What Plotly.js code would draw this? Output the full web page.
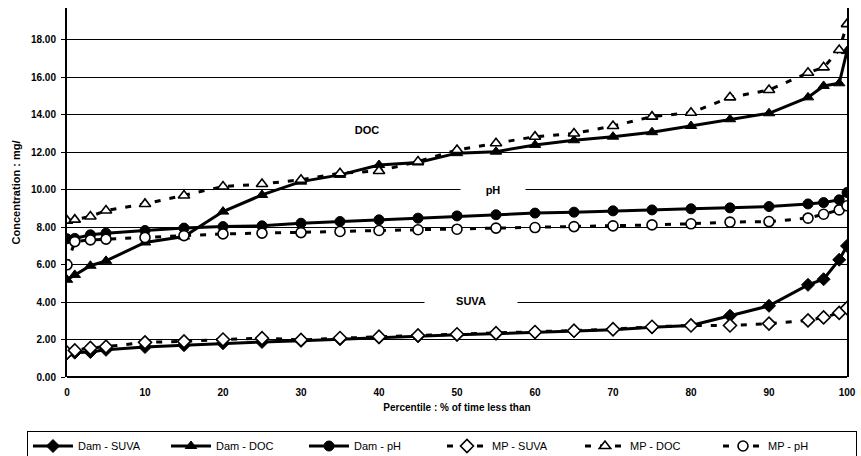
<!DOCTYPE html>
<html>
<head>
<meta charset="utf-8">
<script src="https://cdn.plot.ly/plotly-3.0.1.min.js"></script>
<style>html,body{margin:0;padding:0;background:#fff;}#chart{width:861px;height:456px;}</style>
</head>
<body>
<div id="chart"></div>
<script>
const percentile = [0,1,3,5,10,15,20,25,30,35,40,45,50,55,60,65,70,75,80,85,90,95,97,99,100];
const damSUVA = [1.28,1.30,1.33,1.45,1.60,1.70,1.80,1.87,1.93,2.02,2.10,2.18,2.25,2.31,2.38,2.45,2.52,2.65,2.75,3.27,3.80,4.92,5.22,6.26,7.00];
const damDOC  = [5.19,5.45,5.94,6.20,7.18,7.50,8.83,9.72,10.43,10.79,11.32,11.45,11.95,12.03,12.39,12.64,12.83,13.07,13.40,13.76,14.08,14.93,15.54,15.68,17.40];
const damPH   = [7.38,7.40,7.59,7.68,7.82,7.95,8.03,8.07,8.21,8.30,8.39,8.48,8.60,8.66,8.75,8.80,8.87,8.92,8.98,9.03,9.10,9.24,9.31,9.46,9.85];
const mpSUVA  = [1.30,1.42,1.55,1.62,1.85,1.90,2.00,2.07,1.98,2.08,2.15,2.22,2.28,2.34,2.40,2.47,2.55,2.68,2.75,2.75,2.85,3.02,3.18,3.42,3.68];
const mpDOC   = [8.35,8.40,8.57,8.89,9.24,9.69,10.17,10.30,10.53,10.88,11.00,11.50,12.12,12.48,12.83,13.00,13.40,13.90,14.11,14.93,15.32,16.24,16.53,17.46,18.84];
const mpPH    = [5.99,7.23,7.32,7.36,7.45,7.55,7.64,7.68,7.71,7.77,7.82,7.86,7.89,7.95,7.98,8.03,8.07,8.12,8.18,8.27,8.30,8.48,8.69,8.92,9.14];
const seriesNames = ['Dam - SUVA','Dam - DOC','Dam - pH','MP - SUVA','MP - DOC','MP - pH'];
const yTicks = [0,2,4,6,8,10,12,14,16,18];
const xTicks = [0,10,20,30,40,50,60,70,80,90,100];
const labels = [
  {text:'DOC', x:38.5, y:13.2, w:40},
  {text:'pH', x:54.6, y:10.0, w:62},
  {text:'SUVA', x:51.8, y:4.05, w:90}
];

const FONT = 'Liberation Sans, Arial, sans-serif';
function damTrace(y, name, sym){
  return {x:percentile, y:y, name:name, type:'scatter', mode:'lines+markers',
    line:{color:'#000', width:3},
    marker:{symbol:sym, size:10, color:'#000', line:{color:'#000', width:1}}};
}
function mpTrace(y, name, sym){
  return {x:percentile, y:y, name:name, type:'scatter', mode:'lines+markers',
    line:{color:'#000', width:3, dash:'6px,9px'},
    marker:{symbol:sym, size:10, color:'#fff', line:{color:'#000', width:1.6}}};
}
const data = [
  damTrace(damSUVA, seriesNames[0], 'diamond'),
  damTrace(damDOC, seriesNames[1], 'triangle-up'),
  damTrace(damPH, seriesNames[2], 'circle'),
  mpTrace(mpSUVA, seriesNames[3], 'diamond'),
  mpTrace(mpDOC, seriesNames[4], 'triangle-up'),
  mpTrace(mpPH, seriesNames[5], 'circle')
];

const layout = {
  width:861, height:456,
  margin:{l:67, r:14, t:8, b:79, autoexpand:false},
  paper_bgcolor:'#fff', plot_bgcolor:'#fff',
  font:{family:FONT, color:'#000'},
  showlegend:true,
  xaxis:{range:[0,100], tickvals:xTicks, ticktext:xTicks.map(String), automargin:false,
    showgrid:false, zeroline:false, showline:false,
    ticks:'', ticklabelstandoff:8,
    tickfont:{family:FONT, size:10, weight:'bold', color:'#000'},
    title:{text:'Percentile : % of time less than', standoff:6,
      font:{family:FONT, size:10, weight:'bold', color:'#000'}}},
  yaxis:{range:[0,19.7], tickvals:yTicks, ticktext:yTicks.map(v=>v.toFixed(2)), automargin:false,
    showgrid:true, gridcolor:'#000', gridwidth:1,
    zeroline:true, zerolinecolor:'#000', zerolinewidth:1.5,
    showline:true, linecolor:'#000', linewidth:2, mirror:true,
    ticks:'outside', ticklen:4, tickcolor:'#000', ticklabelstandoff:3,
    tickfont:{family:FONT, size:10, weight:'bold', color:'#000'},
    title:{text:'Concentration : mg/', standoff:8,
      font:{family:FONT, size:11, weight:'bold', color:'#000'}}},
  legend:{orientation:'h', x:-0.0513, xanchor:'left', y:-0.145, yanchor:'top',
    bordercolor:'#000', borderwidth:1, bgcolor:'#fff',
    itemwidth:40, entrywidth:83,
    font:{family:FONT, size:11, color:'#000'}},
  annotations: labels.map(l => ({x:l.x, y:l.y, xref:'x', yref:'y', text:l.text,
    showarrow:false, bgcolor:'#fff', width:l.w,
    font:{family:FONT, size:11, weight:'bold', color:'#000'}}))
};
Plotly.newPlot('chart', data, layout, {displayModeBar:false, staticPlot:true});
</script>
</body>
</html>
